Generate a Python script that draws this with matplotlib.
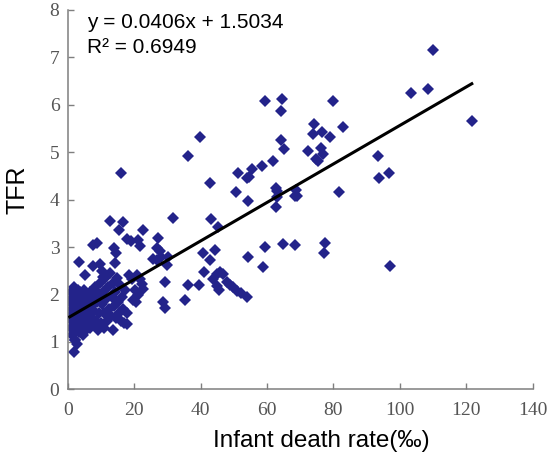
"""Scatter of TFR against infant death rate with a linear trend line."""

from __future__ import annotations

import matplotlib

matplotlib.use("Agg")
import matplotlib.pyplot as plt
import numpy as np

OUT_PATH = "out.png"

# values (x: infant death rate in per mille, y: TFR)
infant_death_rate = [
    # dense cluster of low mortality countries
    0.6, 0.8, 0.9, 1.0, 1.2, 1.3, 1.4, 1.5, 1.7, 1.8, 1.9, 2.0, 2.1, 2.3, 2.4,
    2.5, 2.6, 2.8, 2.9, 3.0, 3.1, 3.3, 3.4, 3.6, 3.7, 3.8, 4.0, 4.2, 4.3, 4.5,
    4.6, 4.8, 5.0, 5.1, 5.3, 5.5, 5.6, 5.8, 6.0, 6.2, 6.4, 6.6, 6.8, 7.0, 7.2,
    7.5, 7.7, 8.0, 8.2, 8.5, 8.8, 9.0, 9.3, 9.5, 9.8, 10.0, 10.3, 10.6, 10.8,
    11.0, 11.3, 11.5, 11.8, 12.0, 12.3, 12.6, 12.9, 13.2, 13.5, 13.7, 14.0,
    14.3, 14.6, 14.9, 15.2, 15.5, 15.8, 16.1, 16.4, 16.7, 17.0, 17.4, 17.8,
    18.0, 1.9, 2.9, 2.2,
    # low mortality, higher fertility
    16.0, 12.6, 16.6, 15.3, 22.6, 7.7, 8.7, 18.0, 19.0, 21.2, 21.8, 13.9, 14.5,
    27.3, 26.8, 27.8, 3.5, 31.8, 14.3, 7.7, 9.6, 10.2, 10.7, 5.3,
    25.8, 26.8, 28.0, 30.3, 29.8, 29.3, 28.8, 29.3,
    18.5, 19.5, 20.8, 21.8, 22.3, 22.8, 20.3, 21.3, 19.8, 20.5,
    # middle range
    35.3, 36.3, 39.4, 40.6, 41.1, 43.1, 44.4, 43.0, 45.2,
    43.9, 44.9, 45.9, 46.9, 47.9, 48.9, 49.9, 51.0, 52.3, 54.1, 44.9, 45.6,
    54.4, 54.4, 50.8, 59.3, 58.7, 62.6, 64.7, 68.4, 77.6, 77.3, 97.2,
    36.3, 39.8, 42.8, 51.4, 53.9, 54.6, 55.6, 58.6,
    # high mortality countries
    59.3, 64.4, 64.2, 61.9, 64.3, 65.1, 72.3, 74.2, 74.0, 76.7, 79.0, 82.8,
    79.8, 76.3, 76.8, 74.7, 75.5, 62.8, 63.0, 63.0, 68.8, 68.5, 69.1, 81.8,
    93.4, 93.9, 96.9, 103.4, 108.6, 109.9, 121.7,
]
tfr = [
    1.55, 1.85, 1.30, 2.05, 1.70, 1.45, 1.15, 1.95, 1.60, 2.15, 1.35, 1.80,
    1.05, 1.50, 2.00, 1.25, 1.70, 1.90, 1.40, 2.10, 1.60, 1.20, 1.85, 1.50,
    2.05, 1.30, 1.75, 1.95, 1.45, 1.15, 1.65, 2.10, 1.35, 1.85, 1.55, 2.00,
    1.25, 1.70, 1.45, 1.90, 1.60, 1.30, 2.05, 1.75, 1.50, 1.95, 1.35, 1.65,
    2.15, 1.45, 1.85, 1.25, 2.00, 1.60, 2.25, 1.40, 1.80, 2.05, 1.30, 1.60,
    2.35, 1.90, 1.45, 2.15, 1.70, 2.45, 1.55, 1.95, 2.25, 1.25, 1.75, 2.05,
    1.50, 2.35, 1.85, 1.60, 2.20, 1.45, 1.95, 1.70, 1.40, 2.10, 1.38, 1.60,
    0.78, 0.95, 1.05,
    4.56, 3.54, 3.53, 3.37, 3.37, 3.05, 3.09, 3.18, 3.12, 3.15, 3.02, 2.97,
    2.88, 3.19, 2.97, 2.92, 2.69, 3.61, 2.66, 2.61, 2.64, 2.50, 2.37, 2.42,
    2.75, 2.72, 2.80, 2.79, 2.63, 2.26, 1.84, 1.72,
    2.42, 2.33, 2.42, 2.33, 2.23, 2.12, 2.09, 1.98, 1.88, 1.84,
    1.88, 2.19, 2.19, 2.87, 2.47, 3.59, 2.94, 2.72, 3.42,
    2.33, 2.44, 2.47, 2.43, 2.26, 2.19, 2.15, 2.08, 2.04, 1.94, 2.17, 2.10,
    2.79, 3.98, 4.16, 3.00, 2.58, 3.84, 3.07, 3.05, 3.09, 2.88, 2.61,
    4.92, 5.32, 4.36, 4.57, 4.45, 4.47, 4.64, 4.70,
    6.07, 6.13, 5.86, 4.82, 5.25, 5.06, 5.03, 5.60, 5.38, 5.42, 5.33, 5.53,
    6.08, 5.08, 4.96, 4.85, 4.81, 4.24, 4.18, 4.05, 4.21, 4.08, 4.08, 4.17,
    4.93, 4.45, 4.56, 6.25, 6.34, 7.15, 5.66,
]

# trend line printed on the chart
SLOPE = 0.0406
INTERCEPT = 1.5034
R_SQUARED = 0.6949

x_ticks = [0, 20, 40, 60, 80, 100, 120, 140]
y_ticks = [0, 1, 2, 3, 4, 5, 6, 7, 8]

POINT_COLOR = "#23238a"
AXIS_COLOR = "#7f7f7f"
TICK_TEXT_COLOR = "#555555"


def draw_chart() -> None:
    """Draw the scatter, the regression line and the equation text."""
    fig = plt.figure(figsize=(5.56, 4.66), dpi=100)
    ax = fig.add_axes([0.1218, 0.1646, 0.836, 0.814])

    x = np.array(infant_death_rate)
    y = np.array(tfr)
    ax.plot(x, y, linestyle="none", marker="D", markersize=5.8,
            color=POINT_COLOR, markeredgewidth=0, zorder=2)

    line_x = np.array([x.min(), x.max()])
    ax.plot(line_x, SLOPE * line_x + INTERCEPT, color="black", linewidth=2.2, zorder=3)

    ax.set_xlim(x_ticks[0], x_ticks[-1])
    ax.set_ylim(y_ticks[0], y_ticks[-1])
    ax.set_xticks(x_ticks)
    ax.set_yticks(y_ticks)

    for side in ("top", "right"):
        ax.spines[side].set_visible(False)
    for side in ("left", "bottom"):
        ax.spines[side].set_color(AXIS_COLOR)
        ax.spines[side].set_linewidth(1.1)

    ax.tick_params(direction="in", length=4, width=1.0, color=AXIS_COLOR,
                   labelcolor=TICK_TEXT_COLOR, labelsize=14)
    ax.tick_params(axis="x", pad=9)
    ax.tick_params(axis="y", pad=6)
    for label in ax.get_xticklabels() + ax.get_yticklabels():
        label.set_fontfamily("Liberation Serif")

    ax.set_xlabel("Infant death rate(‰)", fontsize=17.5, family="Liberation Sans",
                  va="center")
    ax.xaxis.set_label_coords(0.545, -0.136)
    ax.set_ylabel("TFR", fontsize=18, family="Liberation Sans", va="center")
    ax.yaxis.set_label_coords(-0.107, 0.525)

    ax.text(0.0415, 0.9525, f"y = {SLOPE}x + {INTERCEPT}", transform=ax.transAxes,
            fontsize=15, family="Liberation Sans", va="baseline")
    ax.text(0.0415, 0.887, f"R² = {R_SQUARED}", transform=ax.transAxes,
            fontsize=15, family="Liberation Sans", va="baseline")

    fig.savefig(OUT_PATH, dpi=100)
    plt.close(fig)


if __name__ == "__main__":
    draw_chart()
